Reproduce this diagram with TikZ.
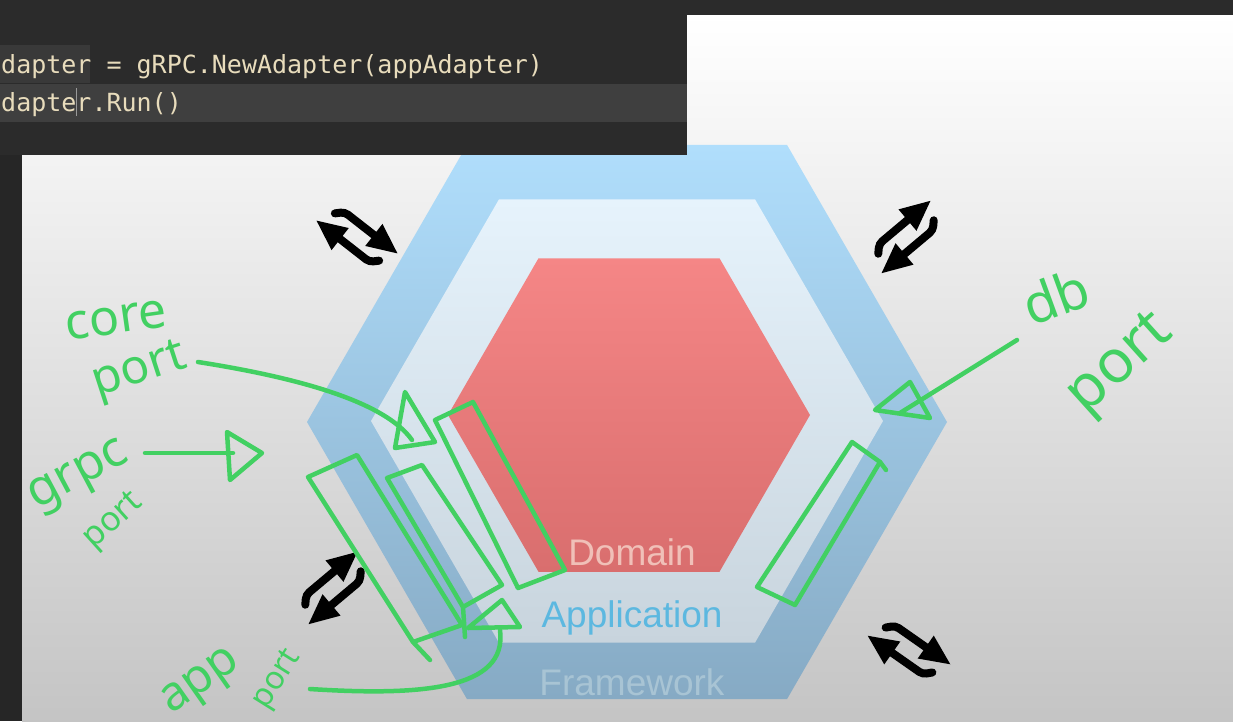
\documentclass[tikz,border=0pt]{standalone}
\usepackage{fontspec}
\setmainfont{Liberation Sans}
\setmonofont{DejaVu Sans Mono}
\newfontfamily\handfont{Noto Sans}
\usetikzlibrary{calc}

\definecolor{codebg}{HTML}{2B2B2B}
\definecolor{codeline}{HTML}{3F3F3F}
\definecolor{codesel}{HTML}{393939}
\definecolor{codetext}{HTML}{E8DCBC}
\definecolor{stripbg}{HTML}{262626}
\definecolor{handgreen}{RGB}{66,208,98}
\definecolor{fwtop}{HTML}{B0DEFC}
\definecolor{fwmid}{HTML}{A2CDEB}
\definecolor{fwbot}{HTML}{86AAC4}
\definecolor{aptop}{HTML}{E6F3FC}
\definecolor{apmid}{HTML}{DCE9F2}
\definecolor{apbot}{HTML}{C8D4DD}
\definecolor{dmtop}{HTML}{F58686}
\definecolor{dmmid}{HTML}{EA7C7C}
\definecolor{dmbot}{HTML}{D96E6E}

\tikzset{
  hand/.style={text=handgreen, inner sep=0pt},
  handline/.style={draw=handgreen, line width=4.5, line cap=round, line join=round},
  swapline/.style={line width=8, line cap=round, rounded corners=4},
  hexlabel/.style={font=\fontsize{37}{40}\selectfont, inner sep=0pt},
  codetext/.style={text=codetext, inner sep=0pt, anchor=base west,
    font=\ttfamily\fontsize{25}{30}\selectfont},
}

% hexagon: options, centre x, centre y, radius
\newcommand{\hexfill}[4]{%
  \shade[#1] (#2,#3) ++(0:#4) -- ++(120:#4) -- ++(180:#4) -- ++(240:#4)
    -- ++(300:#4) -- ++(0:#4) -- cycle;}
% two opposite arrows: x, y, angle
\newcommand{\swapicon}[3]{%
  \begin{scope}[shift={(#1,#2)}, rotate=#3]
    \draw[swapline] (16,-12) -- (-25,-12) -- (-32,-5);
    \fill (12,-26) -- (42,-12) -- (12,2) -- cycle;
    \draw[swapline] (-16,12) -- (25,12) -- (32,5);
    \fill (-12,26) -- (-42,12) -- (-12,-2) -- cycle;
  \end{scope}}

\begin{document}
\begin{tikzpicture}[x=1pt, y=-1pt]
\useasboundingbox (0,0) rectangle (1233,721);

% slide
\shade[top color=white, middle color=white, bottom color=white!77!black]
  (22,15) rectangle (1233,721);

% layers
\hexfill{top color=fwtop, middle color=fwmid, bottom color=fwbot}{627}{422}{320}
\hexfill{top color=aptop, middle color=apmid, bottom color=apbot}{627}{421}{256}
\hexfill{top color=dmtop, middle color=dmmid, bottom color=dmbot}{629}{415}{181}

\node[hexlabel, text={rgb,255:red,240;green,192;blue,184}] (domain) at (632,552) {Domain};
\node[hexlabel, text={rgb,255:red,92;green,184;blue,224}] (application) at (632,618) {Application};
\node[hexlabel, text={rgb,255:red,168;green,196;blue,212}] (framework) at (632,682) {Framework};

% swap arrows
\swapicon{357}{237}{-38}
\swapicon{906}{237}{40}
\swapicon{333}{588}{40}
\swapicon{909}{650}{-35}

% green notes
\node[hand, font=\handfont\fontsize{50}{50}\selectfont, rotate=8] (corelbl) at (116,320) {core};
\node[hand, font=\handfont\fontsize{48}{48}\selectfont, rotate=18] (coreport) at (140,372) {port};
\node[hand, font=\handfont\fontsize{50}{50}\selectfont, rotate=28] (grpclbl) at (80,478) {grpc};
\node[hand, font=\handfont\fontsize{34}{34}\selectfont, rotate=42] (grpcport) at (114,522) {port};
\node[hand, font=\handfont\fontsize{48}{48}\selectfont, rotate=35] (applbl) at (202,684) {app};
\node[hand, font=\handfont\fontsize{32}{32}\selectfont, rotate=58] (appport) at (278,680) {port};
\node[hand, font=\handfont\fontsize{54}{54}\selectfont, rotate=20] (dblbl) at (1056,296) {db};
\node[hand, font=\handfont\fontsize{60}{60}\selectfont, rotate=42] (dbport) at (1122,366) {port};

\coordinate (coretail) at (198,362);
\coordinate (coretip) at (412,440);
\coordinate (grpctail) at (145,453);
\coordinate (grpctip) at (233,453);
\coordinate (apptail) at (310,689);
\coordinate (apptip) at (500,630);
\coordinate (dbtail) at (1017,340);
\coordinate (dbtip) at (900,413);

\draw[handline] (coretail) .. controls (300,378) and (385,402) .. (coretip);
\draw[handline] (405,392) -- (435,442) -- (395,448) -- cycle;
\draw[handline] (grpctail) -- (grpctip);
\draw[handline] (227,432) -- (262,453) -- (230,480) -- cycle;
\draw[handline] (apptail) .. controls (420,696) and (508,690) .. (apptip);
\draw[handline] (502,600) -- (520,627) -- (468,628) -- cycle;
\draw[handline] (dbtail) -- (dbtip);
\draw[handline] (875,410) -- (910,382) -- (930,418) -- cycle;

% adapter boxes
\draw[handline] (308,477) -- (357,455) -- (462,625) -- (413,642) -- cycle;
\draw[handline] (413,642) -- (430,660);
\draw[handline] (387,478) -- (422,465) -- (502,585) -- (463,607) -- cycle;
\draw[handline] (463,607) -- (465,637);
\draw[handline] (435,420) -- (473,402) -- (565,570) -- (518,588) -- cycle;
\draw[handline] (852,442) -- (880,462) -- (795,605) -- (757,587) -- cycle;
\draw[handline] (880,462) -- (886,470);

% editor
\fill[stripbg] (0,0) rectangle (22,721);
\fill[codebg] (0,0) rectangle (1233,15);
\fill[codebg] (0,0) rectangle (687,155);
\fill[codesel] (0,45) rectangle (90,83);
\fill[codeline] (0,84) rectangle (687,122);
\node[codetext] (codeone) at (1,73) {dapter = gRPC.NewAdapter(appAdapter)};
\node[codetext] (codetwo) at (1,111) {dapter.Run()};
\draw[white!60!black, line width=1] (76,88) -- (76,116);
\end{tikzpicture}
\end{document}
